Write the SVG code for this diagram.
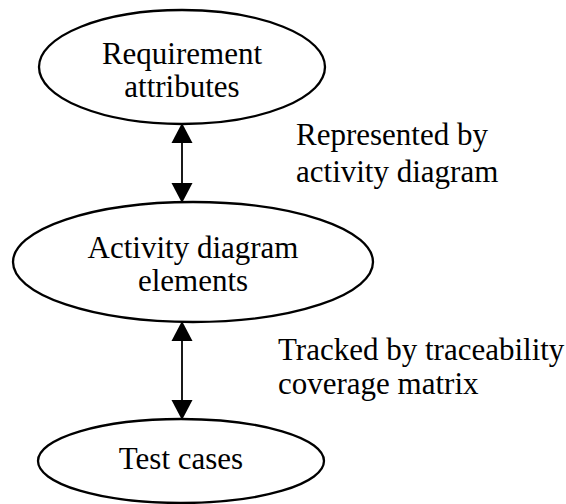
<svg xmlns="http://www.w3.org/2000/svg" width="566" height="504" viewBox="0 0 566 504">
<style>
.node{fill:#fff;stroke:#000;stroke-width:2.3}
.t{font-family:"Liberation Serif","Times New Roman",serif;font-size:31px;fill:#000}
.c{text-anchor:middle}
.edge{stroke:#000;stroke-width:1.8;fill:none}
</style>
<defs>
<marker id="ah" markerUnits="userSpaceOnUse" markerWidth="20" markerHeight="22" refX="19" refY="10.5" orient="auto-start-reverse" viewBox="0 0 20 21">
<path d="M0,0 L20,10.5 L0,21 Z" fill="#000"/>
</marker>
</defs>
<rect width="566" height="504" fill="#fff"/>
<g id="connectors">
<line class="edge" x1="182" y1="124" x2="182" y2="202" marker-start="url(#ah)" marker-end="url(#ah)"/>
<line class="edge" x1="182" y1="322" x2="182" y2="419" marker-start="url(#ah)" marker-end="url(#ah)"/>
<text class="t" x="296" y="145">Represented by</text>
<text class="t" x="296" y="182">activity diagram</text>
<text class="t" x="278" y="360">Tracked by traceability</text>
<text class="t" x="278" y="394">coverage matrix</text>
</g>
<g id="req">
<ellipse class="node" cx="182" cy="67" rx="143" ry="57"/>
<text class="t c" x="182" y="64">Requirement</text>
<text class="t c" x="182" y="97">attributes</text>
</g>
<g id="act">
<ellipse class="node" cx="193" cy="262" rx="180" ry="60"/>
<text class="t c" x="193" y="258">Activity diagram</text>
<text class="t c" x="193" y="291">elements</text>
</g>
<g id="test">
<ellipse class="node" cx="181" cy="461" rx="143" ry="42"/>
<text class="t c" x="181" y="469">Test cases</text>
</g>
</svg>
